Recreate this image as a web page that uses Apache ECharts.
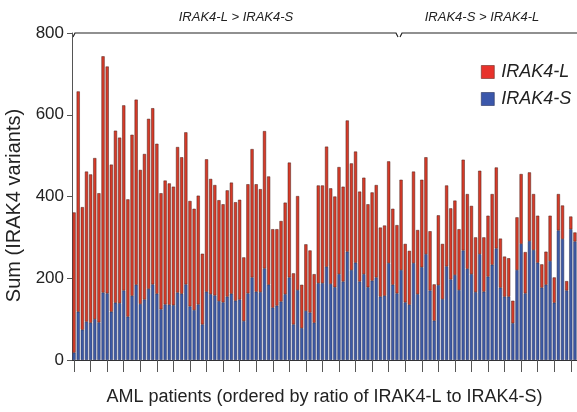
<!DOCTYPE html>
<html>
<head>
<meta charset="utf-8">
<script src="https://cdn.jsdelivr.net/npm/echarts@6/dist/echarts.min.js"></script>
<style>
html,body{margin:0;padding:0;background:#fff;overflow:hidden;}
#chart{width:577px;height:412px;}
</style>
</head>
<body>
<div id="chart"></div>
<script>
// Patients 1..122 ordered by ratio of IRAK4-L to IRAK4-S
const patients = Array.from({length: 122}, (_, i) => 'P' + (i + 1));

// IRAK4-S (bottom, blue)
const irak4S = [
  18,118,74,94,91,100,92,165,163,118,140,139,170,106,157,184,137,148,174,185,
  162,124,136,135,134,165,162,185,131,122,136,87,167,161,158,144,141,155,162,145,
  148,95,163,202,167,166,224,184,128,133,143,161,202,87,171,78,120,116,91,188,
  188,228,186,178,210,192,265,220,238,192,210,178,194,202,155,157,237,184,163,220,
  141,135,237,161,227,259,170,96,183,149,229,197,208,171,268,223,210,166,259,167,
  204,233,273,177,155,155,90,220,284,163,291,269,238,177,184,242,140,317,296,170,
  320,290
];

// IRAK4-L (top, red)
const irak4L = [
  343,539,300,367,363,394,316,578,555,360,421,405,453,287,394,453,328,356,416,431,
  367,284,303,297,290,356,334,372,258,248,266,173,324,282,270,247,240,260,272,241,
  244,156,267,314,263,252,336,265,192,187,197,224,281,125,230,106,163,152,119,239,
  239,294,234,222,262,232,321,261,272,220,236,203,216,226,169,172,249,186,167,221,
  143,132,224,157,214,237,145,89,171,135,198,174,182,149,222,183,167,134,204,133,
  149,173,198,120,98,94,55,129,171,101,168,137,115,57,81,111,62,89,82,23,
  31,22
];

const yTicks = [0, 200, 400, 600, 800];
const groupLabels = ['IRAK4-L > IRAK4-S', 'IRAK4-S > IRAK4-L'];
const groupSplitIndex = 79; // first patient of second group (0-based)

const font = '"Liberation Sans", Arial, sans-serif';
const chart = echarts.init(document.getElementById('chart'), null, {renderer: 'canvas'});

const option = {
  animation: false,
  backgroundColor: '#fff',
  grid: {left: 72, right: 0, top: 33, bottom: 52, containLabel: false, outerBoundsMode: 'none'},
  legend: {
    orient: 'vertical',
    left: 476,
    top: 58,
    itemWidth: 13,
    itemHeight: 13,
    itemGap: 9,
    icon: 'rect',
    textStyle: {fontFamily: font, fontSize: 18, fontStyle: 'italic', color: '#222', padding: [0, 0, 0, 2]},
    data: [
      {name: 'IRAK4-L', itemStyle: {color: '#e8322b', borderColor: '#6a2a22', borderWidth: 0.6}},
      {name: 'IRAK4-S', itemStyle: {color: '#3b57ab', borderColor: '#28305a', borderWidth: 0.6}}
    ]
  },
  xAxis: {
    type: 'category',
    data: patients,
    boundaryGap: true,
    name: 'AML patients (ordered by ratio of IRAK4-L to IRAK4-S)',
    nameLocation: 'middle',
    nameGap: 28,
    nameTextStyle: {fontFamily: font, fontSize: 18, color: '#222'},
    axisLine: {show: true, lineStyle: {color: '#333', width: 1}},
    axisTick: {show: true, interval: 3, alignWithLabel: true, length: 12, lineStyle: {color: '#555', width: 1}},
    axisLabel: {show: false}
  },
  yAxis: {
    type: 'value',
    min: yTicks[0],
    max: yTicks[yTicks.length - 1],
    interval: 200,
    name: 'Sum (IRAK4 variants)',
    nameLocation: 'middle',
    nameGap: 46,
    nameRotate: 90,
    nameTextStyle: {fontFamily: font, fontSize: 20, color: '#222', padding: [0, 18, 0, 0]},
    axisLine: {show: true, lineStyle: {color: '#555', width: 1}},
    axisTick: {show: true, length: 5, lineStyle: {color: '#555'}},
    axisLabel: {fontFamily: font, fontSize: 17, color: '#222', margin: 8},
    splitLine: {show: false}
  },
  series: [
    {
      name: 'IRAK4-S',
      type: 'bar',
      stack: 'sum',
      data: irak4S,
      barCategoryGap: '24%',
      itemStyle: {color: '#3d5aa6', borderColor: '#2a2f55', borderWidth: 0.5}
    },
    {
      name: 'IRAK4-L',
      type: 'bar',
      stack: 'sum',
      data: irak4L,
      barCategoryGap: '24%',
      itemStyle: {color: '#d63b29', borderColor: '#4a1e18', borderWidth: 0.5}
    }
  ]
};
chart.setOption(option);

// Group brackets along the top, placed from the category scale
const left = chart.convertToPixel({xAxisIndex: 0}, patients[0]);
const band = chart.convertToPixel({xAxisIndex: 0}, patients[1]) - left;
const x0 = left - band / 2 + 1;
const xs = chart.convertToPixel({xAxisIndex: 0}, patients[groupSplitIndex]) - band / 2;
const x1 = 577;
const yTop = chart.convertToPixel({yAxisIndex: 0}, yTicks[yTicks.length - 1]);
const lineStyle = {stroke: '#222', lineWidth: 1.2};
chart.setOption({
  graphic: [
    {type: 'polyline', shape: {points: [[x0, yTop + 4], [x0 + 2, yTop], [xs - 3, yTop], [xs - 1, yTop + 4]]}, style: lineStyle, silent: true},
    {type: 'polyline', shape: {points: [[xs + 1, yTop + 4], [xs + 3, yTop], [x1, yTop]]}, style: lineStyle, silent: true},
    {type: 'text', x: (x0 + xs) / 2, y: 17, style: {text: groupLabels[0], font: 'italic 13px ' + font, fill: '#222', align: 'center', verticalAlign: 'middle'}},
    {type: 'text', x: (xs + x1) / 2 - 6, y: 17, style: {text: groupLabels[1], font: 'italic 13px ' + font, fill: '#222', align: 'center', verticalAlign: 'middle'}}
  ]
});
</script>
</body>
</html>
